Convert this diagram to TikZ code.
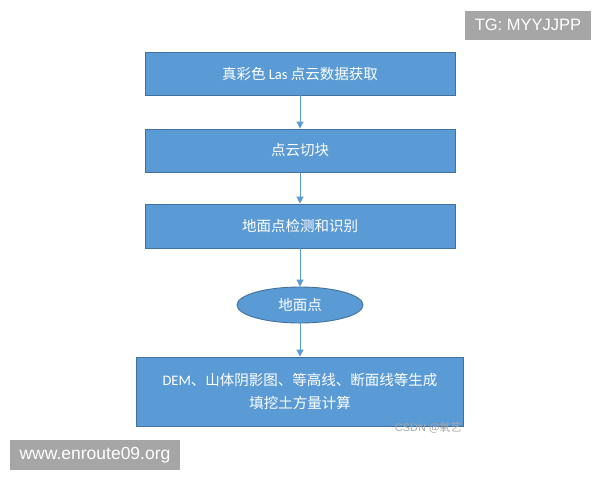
\documentclass[tikz,border=0pt]{standalone}
\usepackage{fontspec}
\setmainfont{Carlito}
\newfontfamily\cjk{Noto Sans CJK SC}
\newfontfamily\wmfont{Liberation Sans}
\definecolor{boxblue}{HTML}{5B9BD5}
\definecolor{boxedge}{HTML}{41719C}
\definecolor{wmgrey}{HTML}{A6A6A6}
\usetikzlibrary{arrows.meta,shapes.geometric}

\tikzset{
    stepbox/.style={draw=boxedge, line width=0.9pt, fill=boxblue, text=white,
        minimum width=310pt, minimum height=43pt, inner sep=0pt,
        font=\fontsize{14.5}{23}\selectfont\cjk},
    oval/.style={stepbox, ellipse, minimum width=126pt, minimum height=36pt},
    flow/.style={draw=boxblue, line width=1pt, -{Triangle[length=7pt,width=7pt]}},
    wmark/.style={fill=wmgrey, text=white, inner sep=0pt}
}

\begin{document}
\begin{tikzpicture}[x=1pt, y=-1pt]
    \useasboundingbox (0,0) rectangle (600,480);
    \node [stepbox] (acquire) at (300,73.5) {真彩色 {\fontspec{Carlito}Las} 点云数据获取};
    \node [stepbox] (tile) at (300,150.5) {点云切块};
    \node [stepbox, minimum height=44pt] (detect) at (300,226) {地面点检测和识别};
    \node [oval] (ground) at (300,305) {地面点};
    \node [stepbox, minimum width=327pt, minimum height=69pt, align=center] (output) at (300,391.5)
        {{\fontspec{Carlito}DEM}、山体阴影图、等高线、断面线等生成\\填挖土方量计算};
    \draw [flow] (acquire) -- (tile);
    \draw [flow] (tile) -- (detect);
    \draw [flow] (detect) -- (ground);
    \draw [flow] (ground) -- (output);
    % watermarks
    \node [wmark, minimum width=126pt, minimum height=29pt, font=\fontsize{16.5}{17}\wmfont] (tg) at (528,25) {TG: MYYJJPP};
    \node [wmark, minimum width=170pt, minimum height=30pt, font=\fontsize{17.5}{18}\wmfont] (site) at (95,455) {www.enroute09.org};
    \node [text=gray!70, font=\fontsize{11}{11}\wmfont, anchor=east] (csdn) at (465,428) {CSDN {\cjk @氧艺}};
\end{tikzpicture}
\end{document}
